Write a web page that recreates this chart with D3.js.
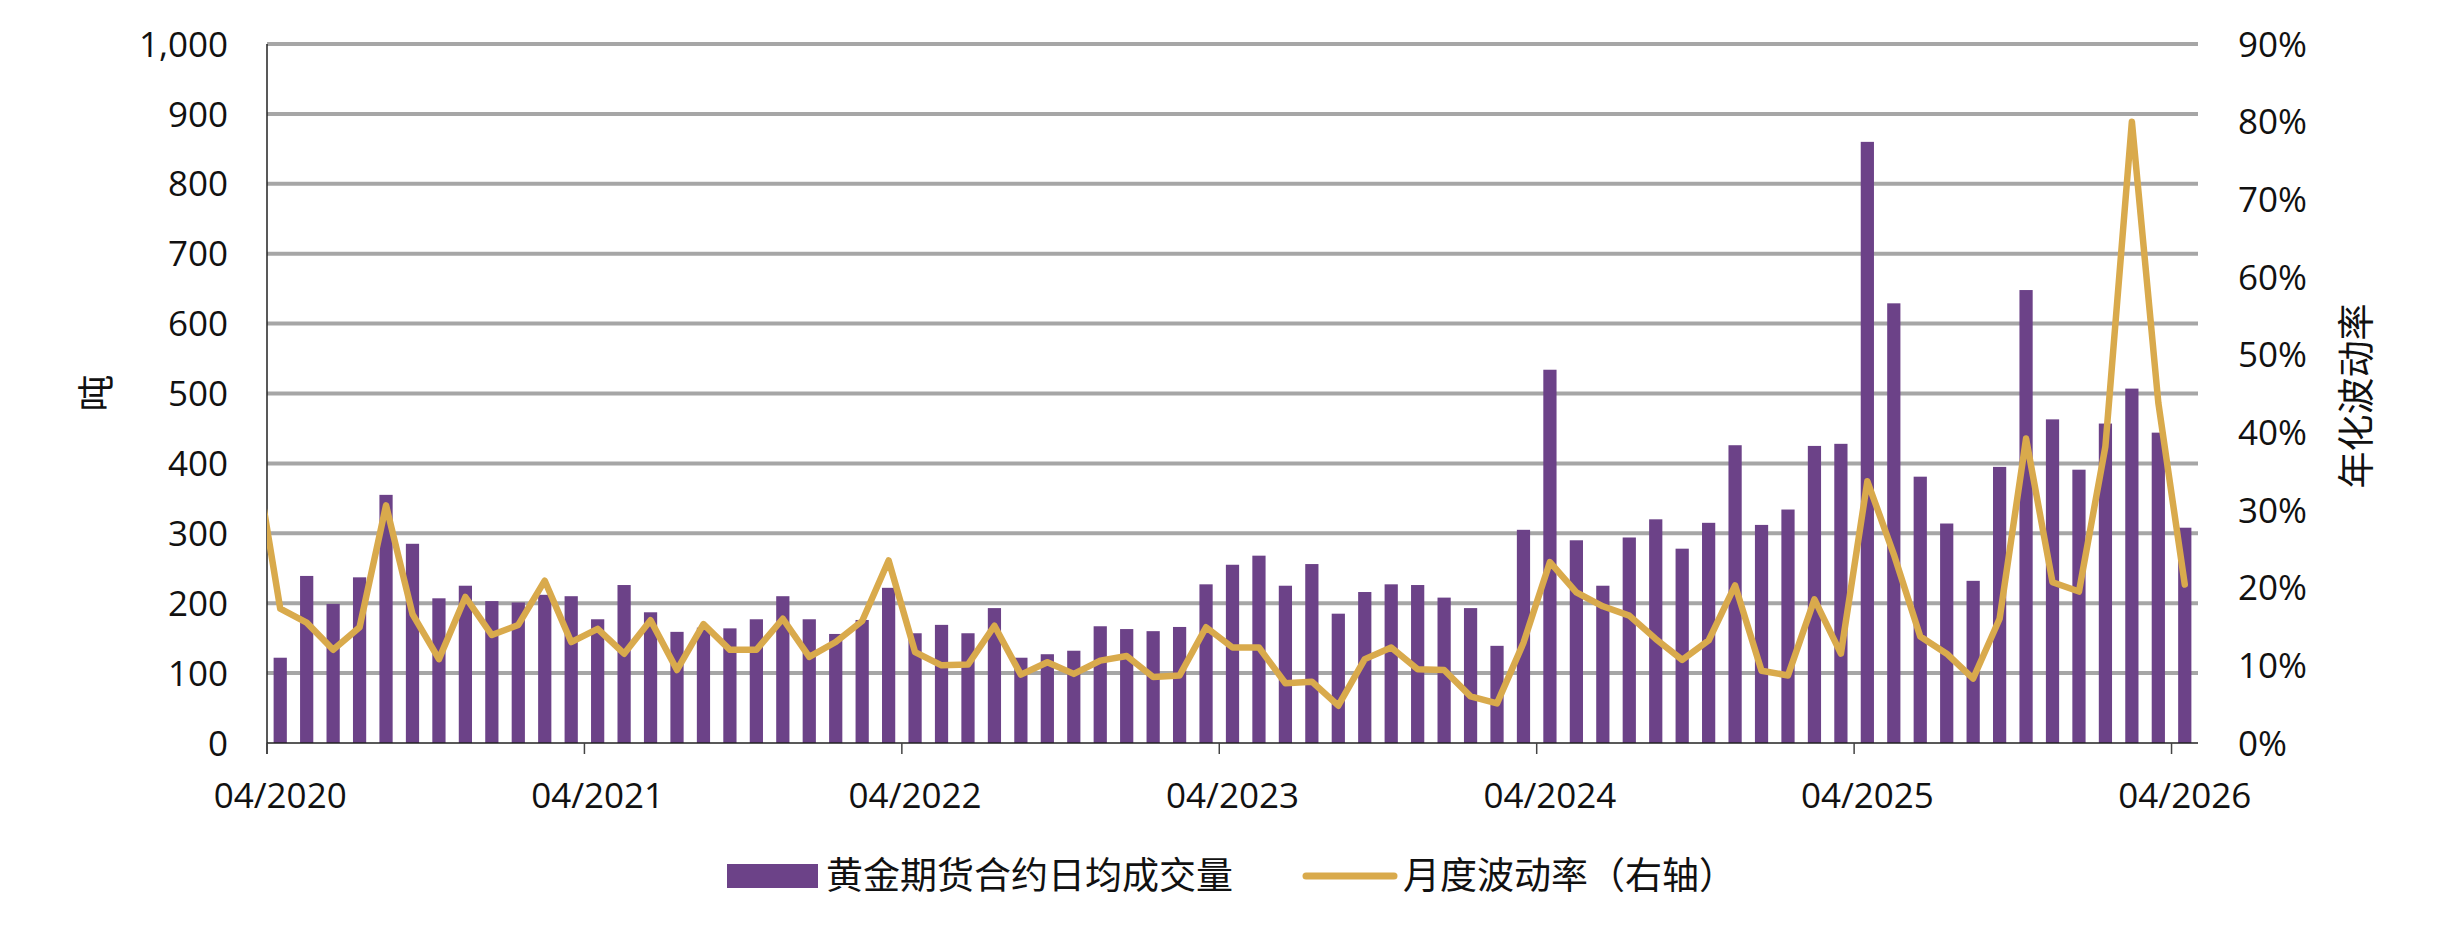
<!DOCTYPE html>
<html lang="zh" dir="ltr">
  <head>
    <meta charset="utf-8">
    <script src="https://d3js.org/d3.v7.min.js"></script>
    <title>黄金期货成交量与波动率</title>
    <style>
      body { margin: 0; background: #fff; }
      text { fill: #111; }
    </style>
  </head>
  <body>

    <script>

      // monthly categories 04/2020 .. 04/2026
      var months = d3.timeMonth.range(new Date(2020, 3, 1), new Date(2026, 4, 1)).map(d3.timeFormat("%m/%Y"));

      // 黄金期货合约日均成交量 (tonnes)
      var volume = [
        122, 239, 199, 237, 355, 285, 207, 225, 203, 201, 212, 210,
        177, 226, 187, 159, 165, 164, 177, 210, 177, 156, 176, 222,
        157, 169, 157, 193, 122, 127, 132, 167, 163, 160, 166, 227,
        255, 268, 225, 256, 185, 216, 227, 226, 208, 193, 139, 305,
        534, 290, 225, 294, 320, 278, 315, 426, 312, 334, 425, 428,
        860, 629, 381, 314, 232, 395, 648, 463, 391, 457, 507, 444,
        308
      ];

      // 月度波动率 (annualised, %), right axis
      var volatility = [
        17.3, 15.5, 12.0, 14.9, 30.6, 16.6, 10.8, 18.8, 13.9, 15.2, 20.9, 13.0,
        14.7, 11.5, 15.8, 9.4, 15.3, 12.0, 12.0, 16.0, 11.1, 13.0, 15.7, 23.5,
        11.7, 10.0, 10.1, 15.1, 8.8, 10.4, 8.9, 10.6, 11.2, 8.5, 8.7, 14.9,
        12.3, 12.3, 7.7, 7.9, 4.8, 10.8, 12.3, 9.5, 9.4, 6.0, 5.1, 12.9,
        23.3, 19.4, 17.6, 16.4, 13.4, 10.7, 13.2, 20.3, 9.3, 8.7, 18.5, 11.5,
        33.7, 24.3, 13.7, 11.5, 8.3, 16.0, 39.2, 20.7, 19.5, 38.2, 80.0, 43.8,
        20.4
      ];
      // 03/2020 value, only its segment into the plot is visible
      var volatilityPrev = 38;

      var leftTicks = [0, 100, 200, 300, 400, 500, 600, 700, 800, 900, 1000];
      var rightTicks = [0, 10, 20, 30, 40, 50, 60, 70, 80, 90];
      var xTickLabels = ["04/2020", "04/2021", "04/2022", "04/2023", "04/2024", "04/2025", "04/2026"];

      var legendLabels = ["黄金期货合约日均成交量", "月度波动率（右轴）"];

      var barColor = "#6c4288";
      var lineColor = "#d9aa4c";
      var gridColor = "#a6a6a6";
      var numFont = "'Open Sans', 'DejaVu Sans', sans-serif";
      var cjkFont = "'Noto Sans CJK SC', 'Noto Sans', sans-serif";

      // plot box (note: "top" is reserved on window, so use plot* names)
      var plotLeft = 267, plotRight = 2198, plotTop = 44, plotBottom = 743;

      var svg = d3.select("body").append("svg")
        .attr("width", 2445)
        .attr("height", 942);

      var x = d3.scaleBand().domain(months).range([plotLeft, plotRight]).paddingInner(0.5).paddingOuter(0.25);
      var yL = d3.scaleLinear().domain([0, 1000]).range([plotBottom, plotTop]);
      var yR = d3.scaleLinear().domain([0, 90]).range([plotBottom, plotTop]);
      var bw = x.bandwidth();
      var step = x.step();

      // gridlines
      svg.append("g").selectAll("line").data(leftTicks.slice(1)).enter().append("line")
        .attr("x1", plotLeft).attr("x2", plotRight)
        .attr("y1", function (d){ return yL(d); })
        .attr("y2", function (d){ return yL(d); })
        .attr("stroke", gridColor)
        .attr("stroke-width", 4);

      // bars
      svg.append("g").selectAll("rect").data(volume).enter().append("rect")
        .attr("x", function (d, i){ return x(months[i]); })
        .attr("y", function (d){ return yL(d); })
        .attr("width", bw)
        .attr("height", function (d){ return plotBottom - yL(d); })
        .attr("fill", barColor);

      // axes lines
      svg.append("line")
        .attr("x1", plotLeft).attr("x2", plotRight).attr("y1", plotBottom).attr("y2", plotBottom)
        .attr("stroke", "#222").attr("stroke-width", 1.5);
      svg.append("line")
        .attr("x1", plotLeft).attr("x2", plotLeft).attr("y1", plotTop).attr("y2", plotBottom + 11)
        .attr("stroke", "#222").attr("stroke-width", 1.5);

      // x ticks at yearly band boundaries + labels at band centres
      svg.append("g").selectAll("line").data(xTickLabels).enter().append("line")
        .attr("x1", function (d){ return x(d) + bw / 2 - step / 2; })
        .attr("x2", function (d){ return x(d) + bw / 2 - step / 2; })
        .attr("y1", plotBottom).attr("y2", plotBottom + 11)
        .attr("stroke", "#444").attr("stroke-width", 1.5);

      svg.append("g").selectAll("text").data(xTickLabels).enter().append("text")
        .attr("x", function (d){ return x(d) + bw / 2; })
        .attr("y", 808)
        .attr("text-anchor", "middle")
        .style("font-family", numFont)
        .style("font-size", "35px")
        .text(function (d){ return d; });

      // left tick labels
      svg.append("g").selectAll("text").data(leftTicks).enter().append("text")
        .attr("x", 228)
        .attr("y", function (d){ return yL(d); })
        .attr("dy", "0.36em")
        .attr("text-anchor", "end")
        .style("font-family", numFont)
        .style("font-size", "35px")
        .text(d3.format(","));

      // right tick labels
      svg.append("g").selectAll("text").data(rightTicks).enter().append("text")
        .attr("x", 2238)
        .attr("y", function (d){ return yR(d); })
        .attr("dy", "0.36em")
        .attr("text-anchor", "start")
        .style("font-family", numFont)
        .style("font-size", "35px")
        .text(function (d){ return d + "%"; });

      // axis titles
      svg.append("text")
        .attr("transform", "translate(94,393) rotate(-90)")
        .attr("text-anchor", "middle")
        .attr("dominant-baseline", "central")
        .style("font-family", cjkFont)
        .style("font-size", "37px")
        .text("吨");

      svg.append("text")
        .attr("transform", "translate(2354,396) rotate(-90)")
        .attr("text-anchor", "middle")
        .attr("dominant-baseline", "central")
        .style("font-family", cjkFont)
        .style("font-size", "37px")
        .text("年化波动率");

      // volatility line, clipped to plot area
      svg.append("clipPath").attr("id", "plotClip")
        .append("rect").attr("x", plotLeft).attr("y", 0).attr("width", plotRight - plotLeft).attr("height", 942);

      var linePts = [[x(months[0]) + bw / 2 - step, yR(volatilityPrev)]].concat(
        volatility.map(function (d, i){ return [x(months[i]) + bw / 2, yR(d)]; })
      );

      svg.append("path")
        .attr("clip-path", "url(#plotClip)")
        .attr("d", d3.line()(linePts))
        .attr("fill", "none")
        .attr("stroke", lineColor)
        .attr("stroke-width", 6.5)
        .attr("stroke-linejoin", "round")
        .attr("stroke-linecap", "round");

      // legend
      var legend = svg.append("g");
      legend.append("rect")
        .attr("x", 727).attr("y", 864).attr("width", 91).attr("height", 24)
        .attr("fill", barColor);
      legend.append("text")
        .attr("x", 826).attr("y", 889)
        .style("font-family", cjkFont)
        .style("font-size", "37px")
        .text(legendLabels[0]);
      legend.append("line")
        .attr("x1", 1306).attr("x2", 1394).attr("y1", 876).attr("y2", 876)
        .attr("stroke", lineColor)
        .attr("stroke-width", 7)
        .attr("stroke-linecap", "round");
      legend.append("text")
        .attr("x", 1403).attr("y", 889)
        .style("font-family", cjkFont)
        .style("font-size", "37px")
        .text(legendLabels[1]);

    </script>

  </body>
</html>
